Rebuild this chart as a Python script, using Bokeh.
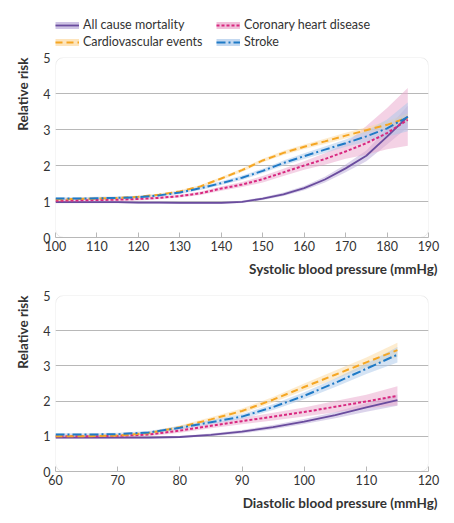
from bokeh.plotting import figure
from bokeh.models import Range1d, Legend, LegendItem, Title, BoxAnnotation, FixedTicker
from bokeh.layouts import column
from bokeh.embed import file_html
from bokeh.resources import INLINE

# ---------------- data ----------------
series_names = ["All cause mortality", "Coronary heart disease", "Cardiovascular events", "Stroke"]

sys_x = [100, 105, 110, 115, 120, 125, 130, 135, 140, 145, 150, 155, 160, 165, 170, 175, 180, 185]
sys_acm = [0.98, 0.98, 0.98, 0.98, 0.97, 0.97, 0.96, 0.96, 0.96, 0.99, 1.08, 1.2, 1.37, 1.61, 1.92, 2.27, 2.8, 3.36]
sys_acm_lo = [0.95, 0.95, 0.95, 0.95, 0.94, 0.94, 0.93, 0.93, 0.93, 0.96, 1.04, 1.15, 1.31, 1.53, 1.81, 2.12, 2.58, 3.06]
sys_acm_hi = [1.01, 1.01, 1.01, 1.01, 1.0, 1.0, 0.99, 0.99, 0.99, 1.02, 1.12, 1.25, 1.43, 1.69, 2.03, 2.42, 3.02, 3.66]
sys_chd = [1.02, 1.03, 1.04, 1.05, 1.07, 1.1, 1.15, 1.23, 1.36, 1.47, 1.62, 1.81, 2.0, 2.18, 2.39, 2.62, 2.9, 3.27]
sys_chd_lo = [0.98, 0.99, 1.0, 1.01, 1.03, 1.06, 1.11, 1.18, 1.3, 1.4, 1.53, 1.71, 1.88, 2.02, 2.19, 2.3, 2.45, 2.55]
sys_chd_hi = [1.06, 1.07, 1.08, 1.09, 1.11, 1.14, 1.19, 1.28, 1.42, 1.54, 1.71, 1.91, 2.12, 2.34, 2.62, 3.1, 3.6, 4.15]
sys_cve = [1.06, 1.07, 1.08, 1.1, 1.13, 1.19, 1.28, 1.42, 1.64, 1.87, 2.14, 2.35, 2.52, 2.67, 2.83, 2.98, 3.13, 3.33]
sys_cve_lo = [1.03, 1.04, 1.05, 1.07, 1.1, 1.16, 1.25, 1.38, 1.6, 1.82, 2.09, 2.29, 2.46, 2.6, 2.75, 2.9, 3.03, 3.21]
sys_cve_hi = [1.09, 1.1, 1.11, 1.13, 1.16, 1.22, 1.31, 1.46, 1.68, 1.92, 2.19, 2.41, 2.58, 2.74, 2.91, 3.06, 3.23, 3.45]
sys_str = [1.08, 1.08, 1.09, 1.1, 1.12, 1.17, 1.25, 1.37, 1.51, 1.66, 1.85, 2.07, 2.26, 2.44, 2.62, 2.81, 3.03, 3.35]
sys_str_lo = [1.04, 1.04, 1.05, 1.06, 1.08, 1.13, 1.21, 1.32, 1.46, 1.6, 1.79, 2.0, 2.18, 2.35, 2.52, 2.66, 2.8, 2.95]
sys_str_hi = [1.12, 1.12, 1.13, 1.14, 1.16, 1.21, 1.29, 1.42, 1.56, 1.72, 1.91, 2.14, 2.34, 2.53, 2.72, 2.96, 3.28, 3.75]

dia_x = [60, 65, 70, 75, 80, 85, 90, 95, 100, 105, 110, 115]
dia_acm = [0.96, 0.96, 0.96, 0.96, 0.98, 1.04, 1.13, 1.26, 1.42, 1.6, 1.82, 2.03]
dia_acm_lo = [0.93, 0.93, 0.93, 0.93, 0.95, 1.0, 1.08, 1.2, 1.35, 1.51, 1.7, 1.87]
dia_acm_hi = [0.99, 0.99, 0.99, 0.99, 1.01, 1.08, 1.18, 1.32, 1.49, 1.69, 1.94, 2.19]
dia_chd = [1.0, 1.0, 1.01, 1.05, 1.16, 1.3, 1.43, 1.56, 1.69, 1.84, 1.99, 2.15]
dia_chd_lo = [0.95, 0.95, 0.96, 1.0, 1.1, 1.23, 1.34, 1.45, 1.56, 1.68, 1.8, 1.88]
dia_chd_hi = [1.05, 1.05, 1.06, 1.1, 1.22, 1.37, 1.52, 1.67, 1.82, 2.0, 2.18, 2.42]
dia_cve = [1.0, 1.0, 1.02, 1.09, 1.26, 1.48, 1.72, 2.04, 2.4, 2.75, 3.1, 3.45]
dia_cve_lo = [0.96, 0.96, 0.98, 1.05, 1.21, 1.42, 1.65, 1.96, 2.3, 2.63, 2.96, 3.25]
dia_cve_hi = [1.04, 1.04, 1.06, 1.13, 1.31, 1.54, 1.79, 2.12, 2.5, 2.87, 3.24, 3.66]
dia_str = [1.05, 1.05, 1.06, 1.11, 1.24, 1.4, 1.56, 1.83, 2.15, 2.52, 2.92, 3.32]
dia_str_lo = [1.01, 1.01, 1.02, 1.07, 1.19, 1.34, 1.49, 1.75, 2.05, 2.4, 2.77, 3.1]
dia_str_hi = [1.09, 1.09, 1.1, 1.15, 1.29, 1.46, 1.63, 1.91, 2.25, 2.64, 3.07, 3.54]

y_ticks = [0, 1, 2, 3, 4, 5]
sys_ticks = [100, 110, 120, 130, 140, 150, 160, 170, 180, 190]
dia_ticks = [60, 70, 80, 90, 100, 110, 120]

# ---------------- style ----------------
FONT = "Lato"
TXT = "#333333"
GRID = "#b8b8b8"
line_colors = ["#6a4c9e", "#d8277f", "#f5a623", "#1f7ac6"]
band_colors = ["#b9aad8", "#eaa5cb", "#fcd9a0", "#a9c8ea"]
dashes = ["solid", "3 2", "7 4", "9 3 2 3"]
widths = [1.8, 2, 2, 2]
W = 446


def legend_fig():
    p = figure(width=W, height=49, output_backend="svg", toolbar_location=None,
               x_range=Range1d(0, 1), y_range=Range1d(0, 1),
               x_axis_type=None, y_axis_type=None,
               min_border=0, min_border_left=55, min_border_right=0,
               min_border_top=0, min_border_bottom=0)
    p.grid.grid_line_color = None
    p.outline_line_color = None
    items = []
    for i in [0, 2, 1, 3]:
        band = p.line([5, 6], [5, 5], line_color=band_colors[i], line_width=7, line_alpha=0.7)
        ln = p.line([5, 6], [5, 5], line_color=line_colors[i], line_width=widths[i], line_dash=dashes[i])
        items.append(LegendItem(label=series_names[i], renderers=[band, ln]))
    leg = Legend(items=items, ncols=2, location="bottom_left", orientation="vertical",
                 label_text_font=FONT, label_text_font_size="12.5px", label_text_color=TXT,
                 glyph_width=24, glyph_height=14, label_standoff=4, spacing=2,
                 padding=0, margin=0, label_width=131, label_height=14,
                 border_line_color=None, background_fill_alpha=0)
    p.add_layout(leg, "center")
    return p


def panel(x, ys, los, his, xr, xticks, xlabel, height, border_top, border_bottom):
    p = figure(width=W, height=height, output_backend="svg", toolbar_location=None,
               x_range=Range1d(*xr), y_range=Range1d(0, 5),
               min_border_left=55, min_border_right=W - 428,
               min_border_top=border_top, min_border_bottom=border_bottom)
    p.outline_line_color = None
    p.xgrid.grid_line_color = None
    p.ygrid.grid_line_color = GRID
    p.ygrid.grid_line_width = 1
    p.ygrid.ticker = FixedTicker(ticks=[1, 2, 3, 4])

    p.xaxis.ticker = FixedTicker(ticks=xticks)
    p.xaxis.axis_line_color = GRID
    p.xaxis.major_tick_line_color = GRID
    p.xaxis.major_tick_in = 5
    p.xaxis.major_tick_out = 0
    p.xaxis.minor_tick_line_color = None
    p.xaxis.major_label_text_font = FONT
    p.xaxis.major_label_text_font_size = "12.5px"
    p.xaxis.major_label_text_color = TXT
    p.xaxis.major_label_standoff = 3

    p.yaxis.ticker = FixedTicker(ticks=y_ticks)
    p.yaxis.axis_line_color = None
    p.yaxis.major_tick_line_color = None
    p.yaxis.major_tick_in = 0
    p.yaxis.major_tick_out = 0
    p.yaxis.minor_tick_line_color = None
    p.yaxis.major_label_text_font = FONT
    p.yaxis.major_label_text_font_size = "12.5px"
    p.yaxis.major_label_text_color = TXT
    p.yaxis.major_label_standoff = 5

    p.add_layout(BoxAnnotation(left=xr[0], right=xr[1], bottom=0, top=5, fill_alpha=0,
                               line_color=GRID, line_width=1, border_radius=8), "center")

    for i in range(4):
        p.varea(x=x, y1=los[i], y2=his[i], fill_color=band_colors[i], fill_alpha=0.5)
    for i in range(4):
        p.line(x, ys[i], line_color=line_colors[i], line_width=widths[i], line_dash=dashes[i])

    p.add_layout(Title(text=xlabel, align="right", text_font=FONT, text_font_size="13.5px",
                       text_font_style="bold", text_color=TXT, offset=-9, standoff=10), "below")
    p.add_layout(Title(text="Relative risk", align="right", text_font=FONT, text_font_size="13.5px",
                       text_font_style="bold", text_color=TXT, standoff=20), "left")
    return p


leg = legend_fig()
top = panel(sys_x, [sys_acm, sys_chd, sys_cve, sys_str], [sys_acm_lo, sys_chd_lo, sys_cve_lo, sys_str_lo],
            [sys_acm_hi, sys_chd_hi, sys_cve_hi, sys_str_hi], (100, 190), sys_ticks,
            "Systolic blood pressure (mmHg)", 233, 8, 45)
bot = panel(dia_x, [dia_acm, dia_chd, dia_cve, dia_str], [dia_acm_lo, dia_chd_lo, dia_cve_lo, dia_str_lo],
            [dia_acm_hi, dia_chd_hi, dia_cve_hi, dia_str_hi], (60, 120), dia_ticks,
            "Diastolic blood pressure (mmHg)", 233, 13, 40)

layout = column(leg, top, bot, spacing=0)
open("out.html", "w").write(file_html(layout, INLINE))
